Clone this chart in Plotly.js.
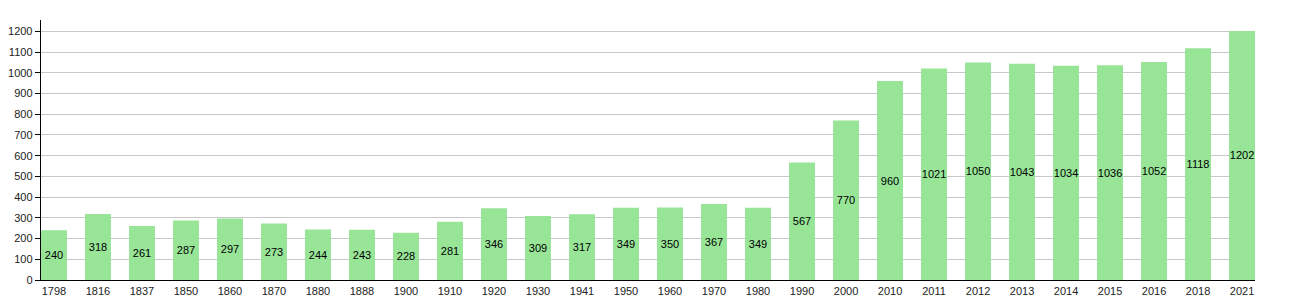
<!DOCTYPE html>
<html>
<head>
<meta charset="utf-8">
<script src="https://cdn.plot.ly/plotly-3.0.1.min.js"></script>
<style>html,body{margin:0;padding:0;background:#fff;}#chart{width:1290px;height:300px;}</style>
</head>
<body>
<div id="chart"></div>
<script>
const years = ["1798","1816","1837","1850","1860","1870","1880","1888","1900","1910","1920","1930","1941","1950","1960","1970","1980","1990","2000","2010","2011","2012","2013","2014","2015","2016","2018","2021"];
const population = [240,318,261,287,297,273,244,243,228,281,346,309,317,349,350,367,349,567,770,960,1021,1050,1043,1034,1036,1052,1118,1202];
const yTicks = [0,100,200,300,400,500,600,700,800,900,1000,1100,1200];

const trace = {
  type: 'bar',
  x: years,
  y: population,
  text: population.map(String),
  textposition: 'inside',
  insidetextanchor: 'middle',
  textangle: 0,
  constraintext: 'none',
  textfont: {family: 'Liberation Sans, Arial, sans-serif', size: 11, color: '#000'},
  marker: {color: '#98e598', line: {width: 0}},
  width: 0.59,
  hoverinfo: 'none'
};

const layout = {
  width: 1290,
  height: 300,
  margin: {l: 41, r: 35, t: 20, b: 20, pad: 0},
  paper_bgcolor: '#fff',
  plot_bgcolor: '#fff',
  showlegend: false,
  font: {family: 'Liberation Sans, Arial, sans-serif', size: 11, color: '#222'},
  xaxis: {
    type: 'category',
    range: [-0.295, 27.295],
    showline: true,
    linecolor: '#000',
    linewidth: 1.3,
    showgrid: false,
    ticks: '',
    tickfont: {size: 11, color: '#222'},
    fixedrange: true
  },
  yaxis: {
    range: [0, 1254.5],
    tickvals: yTicks,
    ticktext: yTicks.map(String),
    showline: true,
    linecolor: '#000',
    linewidth: 1.3,
    showgrid: true,
    gridcolor: '#c8c8c8',
    gridwidth: 1,
    zeroline: false,
    ticks: 'outside',
    ticklen: 5,
    tickcolor: '#000',
    tickfont: {size: 11, color: '#222'},
    fixedrange: true
  }
};

Plotly.newPlot('chart', [trace], layout, {displayModeBar: false, staticPlot: true});
</script>
</body>
</html>
